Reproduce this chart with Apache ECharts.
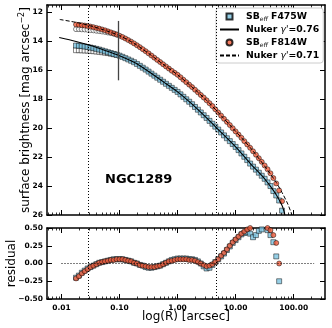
<!DOCTYPE html>
<html><head><meta charset="utf-8">
<script src="https://cdn.jsdelivr.net/npm/echarts@6/dist/echarts.min.js"></script>
<style>html,body{margin:0;padding:0;background:#fff}#c{width:332px;height:328px}</style>
</head><body><div id="c"></div>
<script>
// log10 of radius in arcsec
const logR = [
-1.75,-1.70,-1.65,-1.60,-1.55,-1.50,-1.45,-1.40,-1.35,-1.30,
-1.25,-1.20,-1.15,-1.10,-1.05,-1.00,-0.95,-0.90,-0.85,-0.80,
-0.75,-0.70,-0.65,-0.60,-0.55,-0.50,-0.45,-0.40,-0.35,-0.30,
-0.25,-0.20,-0.15,-0.10,-0.05,0.00,0.05,0.10,0.15,0.20,
0.25,0.30,0.35,0.40,0.45,0.50,0.55,0.60,0.65,0.70,
0.75,0.80,0.85,0.90,0.95,1.00,1.05,1.10,1.15,1.20,
1.25,1.30,1.35,1.40,1.45,1.50,1.55,1.60,1.65,1.70,
1.75,1.80];
const sbF475W = [
14.30,14.32,14.34,14.37,14.40,14.44,14.48,14.53,14.58,14.64,
14.70,14.76,14.82,14.88,14.94,15.00,15.08,15.17,15.26,15.35,
15.45,15.57,15.70,15.83,15.96,16.10,16.24,16.38,16.52,16.66,
16.80,16.94,17.08,17.22,17.36,17.50,17.67,17.84,18.01,18.18,
18.35,18.54,18.73,18.92,19.11,19.30,19.50,19.70,19.90,20.10,
20.30,20.50,20.70,20.90,21.10,21.30,21.52,21.75,21.98,22.21,
22.45,22.66,22.87,23.08,23.29,23.50,23.75,24.00,24.35,24.65,
25.00,25.70];
const sbF814W = [
12.85,12.87,12.89,12.92,12.95,12.99,13.03,13.08,13.13,13.19,
13.25,13.32,13.39,13.46,13.54,13.62,13.71,13.81,13.92,14.03,
14.15,14.28,14.41,14.55,14.69,14.84,14.99,15.14,15.29,15.44,
15.59,15.74,15.89,16.04,16.18,16.32,16.49,16.66,16.83,17.00,
17.17,17.35,17.53,17.71,17.89,18.08,18.28,18.48,18.70,18.92,
19.14,19.36,19.57,19.79,20.01,20.23,20.45,20.67,20.90,21.13,
21.36,21.60,21.84,22.08,22.33,22.58,22.84,23.12,23.45,23.82,
24.30,25.05];
// inner profile points drawn as open markers (first 15 radii)
const sbF475Winner = [14.62,14.62,14.63,14.64,14.65,14.67,14.69,14.71,14.73,14.76,14.79,14.82,14.86,14.90,14.94];
const sbF814Winner = [13.17,13.17,13.18,13.19,13.21,13.23,13.25,13.28,13.30,13.33,13.36,13.40,13.44,13.48,13.54];
const resF475W = [
-0.20,-0.17,-0.13,-0.10,-0.07,-0.05,-0.03,-0.01,0.01,0.02,
0.03,0.04,0.05,0.06,0.06,0.06,0.06,0.05,0.04,0.03,
0.01,0.00,-0.02,-0.03,-0.05,-0.06,-0.06,-0.05,-0.04,-0.03,
-0.01,0.01,0.03,0.05,0.06,0.07,0.07,0.07,0.07,0.06,
0.06,0.05,0.03,0.00,-0.04,-0.07,-0.06,-0.02,0.02,0.06,
0.10,0.14,0.19,0.24,0.29,0.33,0.37,0.41,0.43,0.44,
0.42,0.37,0.40,0.46,0.48,0.52,0.47,0.40,0.30,0.10,
-0.25,-0.60];
const resF814W = [
-0.21,-0.18,-0.14,-0.11,-0.08,-0.05,-0.03,-0.01,0.01,0.02,
0.03,0.04,0.05,0.05,0.06,0.06,0.06,0.05,0.04,0.03,
0.01,0.00,-0.02,-0.03,-0.04,-0.05,-0.05,-0.05,-0.04,-0.03,
-0.01,0.01,0.03,0.04,0.05,0.06,0.06,0.06,0.06,0.05,
0.05,0.04,0.02,0.00,-0.02,-0.04,-0.03,-0.01,0.02,0.06,
0.11,0.15,0.20,0.25,0.30,0.34,0.38,0.42,0.45,0.48,
0.50,0.53,0.55,0.56,0.55,0.53,0.50,0.47,0.40,0.29,
0.00,-0.60];
// Nuker model curves
const nukerX076 = [-2.04,-1.75,-1.5,-1.25,-1.0,-0.75,-0.5,-0.25,0,0.25,0.5,0.75,1.0,1.25,1.5,1.6,1.7,1.8,1.85];
const nuker076  = [13.75,14.02,14.30,14.64,15.01,15.46,16.09,16.79,17.50,18.35,19.30,20.30,21.30,22.43,23.50,24.02,24.60,25.35,26.00];
const nukerX071 = [-2.03,-1.75,-1.5,-1.25,-1.0,-0.75,-0.5,-0.25,0,0.25,0.5,0.75,1.0,1.25,1.5,1.6,1.7,1.8,1.9,1.97];
const nuker071  = [12.50,12.70,12.94,13.25,13.62,14.15,14.84,15.59,16.32,17.17,18.08,19.14,20.22,21.34,22.62,23.17,23.75,24.45,25.25,26.00];
// reference lines (arcsec)
const breakR = [0.0286, 4.6];
const coreR = 0.095, coreSpan = [12.6, 16.7];
const zeroSpanR = [0.01, 225];
// tick labels
const majorR = [0.01, 0.1, 1, 10, 100];
const sbTicks = [12, 14, 16, 18, 20, 22, 24, 26];
const resTicks = [-0.5, -0.25, 0, 0.25, 0.5];

const FONT = 'DejaVu Sans';
const X_MIN = -2.25, X_MAX = 2.54;
const majorLog = majorR.map(v => Math.log10(v));
const minorLog = [];
for (let n = -3; n <= 2; n++) for (let k = 2; k <= 9; k++) {
  const v = Math.log10(k * Math.pow(10, n));
  if (v > X_MIN && v < X_MAX) minorLog.push(v);
}
const BLUE = '#7cc3e0', RED = '#f15b3a';
const axisLine = {show: true, onZero: false, lineStyle: {color: '#000', width: 1.5}};
const noLine = {show: false, onZero: false};

function xAxes(g, withLabels) {
  const base = {gridIndex: g, type: 'value', min: X_MIN, max: X_MAX, splitLine: {show: false}};
  return [
    Object.assign({}, base, {position: 'bottom', axisLine,
      axisTick: {inside: true, length: 5, customValues: majorLog, lineStyle: {color: '#000', width: 1}},
      axisLabel: withLabels ? {show: true, customValues: majorLog, margin: 5,
        formatter: v => Math.pow(10, v).toFixed(2), fontFamily: FONT, fontWeight: 'bold', fontSize: 7.5, color: '#000'} : {show: false},
      name: withLabels ? 'log(R) [arcsec]' : '', nameLocation: 'middle', nameGap: 12, nameMoveOverlap: false,
      nameTextStyle: {fontFamily: FONT, fontSize: 12, color: '#000', verticalAlign: 'top'}}),
    Object.assign({}, base, {position: 'bottom', axisLine: noLine,
      axisTick: {inside: true, length: 2.5, customValues: minorLog, lineStyle: {color: '#000', width: 0.8}},
      axisLabel: {show: false}}),
    Object.assign({}, base, {position: 'top', axisLine,
      axisTick: {inside: true, length: 5, customValues: majorLog, lineStyle: {color: '#000', width: 1}},
      axisLabel: {show: false}}),
    Object.assign({}, base, {position: 'top', axisLine: noLine,
      axisTick: {inside: true, length: 2.5, customValues: minorLog, lineStyle: {color: '#000', width: 0.8}},
      axisLabel: {show: false}})
  ];
}
const labelStyle = {fontFamily: FONT, fontWeight: 'bold', fontSize: 7.5, color: '#000', margin: 4};
const tickStyle = {inside: true, length: 5, lineStyle: {color: '#000', width: 1}};

const dotted = {color: '#000', width: 1, type: [1, 2]};
const vLines = breakR.map(r => ({xAxis: Math.log10(r)}));

const option = {
  animation: false,
  backgroundColor: '#fff',
  title: {text: 'NGC1289', left: 105, top: 173, padding: 0,
    textStyle: {fontFamily: FONT, fontWeight: 'bold', fontSize: 13, color: '#000'}},
  grid: [
    {left: 47, right: 7, top: 5, height: 210, outerBoundsMode: 'none', containLabel: false},
    {left: 47, right: 7, top: 228, height: 71, outerBoundsMode: 'none', containLabel: false}
  ],
  xAxis: [...xAxes(0, false), ...xAxes(1, true)],
  yAxis: [
    {gridIndex: 0, type: 'value', inverse: true, min: 11.5, max: 26, position: 'left', axisLine,
      splitLine: {show: false},
      axisTick: Object.assign({customValues: sbTicks}, tickStyle),
      axisLabel: Object.assign({customValues: sbTicks}, labelStyle),
      name: 'surface brightness [mag arcsec{sup|−2}]', nameLocation: 'middle', nameGap: 14, nameMoveOverlap: false,
      nameTextStyle: {fontFamily: FONT, fontSize: 12, color: '#000', verticalAlign: 'bottom',
        rich: {sup: {fontFamily: FONT, fontSize: 8, color: '#000', padding: [0, 0, 7, 0]}}}},
    {gridIndex: 0, type: 'value', inverse: true, min: 11.5, max: 26, position: 'right', axisLine,
      splitLine: {show: false},
      axisTick: Object.assign({customValues: sbTicks}, tickStyle),
      axisLabel: {show: false}},
    {gridIndex: 1, type: 'value', min: -0.5, max: 0.5, position: 'left', axisLine,
      splitLine: {show: false},
      axisTick: Object.assign({customValues: resTicks}, tickStyle),
      axisLabel: Object.assign({customValues: resTicks,
        formatter: v => (v < 0 ? '\u2212' : '') + Math.abs(v).toFixed(2)}, labelStyle),
      name: 'residual', nameLocation: 'middle', nameGap: 29, nameMoveOverlap: false,
      nameTextStyle: {fontFamily: FONT, fontSize: 12, color: '#000', verticalAlign: 'bottom'}},
    {gridIndex: 1, type: 'value', min: -0.5, max: 0.5, position: 'right', axisLine,
      splitLine: {show: false},
      axisTick: Object.assign({customValues: resTicks}, tickStyle),
      axisLabel: {show: false}}
  ],
  legend: {
    data: [
      {name: 'F475W', icon: 'path://M0 0L10 0L10 10L0 10Z'},
      {name: 'nuker076', itemStyle: {opacity: 0}},
      {name: 'F814W'},
      {name: 'nuker071', itemStyle: {opacity: 0}}
    ],
    orient: 'vertical', left: 216, top: 8, padding: [3, 4, 3, 3], itemGap: 3,
    itemWidth: 19, itemHeight: 6, symbolKeepAspect: true,
    backgroundColor: '#fff', borderColor: '#ccc', borderWidth: 1, borderRadius: 3,
    formatter: n => ({
      F475W: '{b|SB}{s|eff}{b| F475W}',
      nuker076: "{b|Nuker }{g|γ'}{b|=0.76}",
      F814W: '{b|SB}{s|eff}{b| F814W}',
      nuker071: "{b|Nuker }{g|γ'}{b|=0.71}"
    })[n],
    textStyle: {fontFamily: FONT, fontSize: 9.3, color: '#000', padding: [0, 0, 0, 2],
      rich: {
        b: {fontFamily: FONT, fontSize: 9.3, fontWeight: 'bold', color: '#000', lineHeight: 13},
        s: {fontFamily: FONT, fontSize: 6, fontStyle: 'italic', color: '#000', lineHeight: 13, padding: [5, 0, 0, 0]},
        g: {fontFamily: FONT, fontSize: 9.3, fontStyle: 'italic', color: '#000', lineHeight: 13}
      }}
  },
  series: [
    {name: 'F475Winner', type: 'scatter', xAxisIndex: 0, yAxisIndex: 0, z: 1,
      symbol: 'rect', symbolSize: 5,
      itemStyle: {color: '#fff', borderColor: '#000', borderWidth: 0.6},
      data: sbF475Winner.map((v, i) => [logR[i], v])},
    {name: 'F814Winner', type: 'scatter', xAxisIndex: 0, yAxisIndex: 0, z: 1,
      symbol: 'circle', symbolSize: 5,
      itemStyle: {color: '#fff', borderColor: '#000', borderWidth: 0.6},
      data: sbF814Winner.map((v, i) => [logR[i], v])},
    {name: 'F475W', type: 'scatter', xAxisIndex: 0, yAxisIndex: 0, z: 2,
      symbol: 'rect', symbolSize: 5,
      itemStyle: {color: BLUE, borderColor: '#000', borderWidth: 0.6},
      data: logR.map((x, i) => [x, sbF475W[i]]),
      markLine: {silent: true, symbol: ['none', 'none'], label: {show: false}, lineStyle: dotted,
        data: [...vLines,
          [{coord: [Math.log10(coreR), coreSpan[0]], lineStyle: {color: '#444', width: 1.3, type: 'solid'}},
           {coord: [Math.log10(coreR), coreSpan[1]]}]]}},
    {name: 'F814W', type: 'scatter', xAxisIndex: 0, yAxisIndex: 0, z: 2,
      symbol: 'circle', symbolSize: 5,
      itemStyle: {color: RED, borderColor: '#000', borderWidth: 0.6},
      data: logR.map((x, i) => [x, sbF814W[i]])},
    {name: 'nuker076', type: 'line', xAxisIndex: 0, yAxisIndex: 0, z: 3,
      symbol: 'none', smooth: 0.3, lineStyle: {color: '#000', width: 1.1},
      itemStyle: {color: '#000'},
      data: nukerX076.map((x, i) => [x, nuker076[i]])},
    {name: 'nuker071', type: 'line', xAxisIndex: 0, yAxisIndex: 0, z: 3,
      symbol: 'none', smooth: 0.3, lineStyle: {color: '#000', width: 1, type: [4, 2]},
      itemStyle: {color: '#000'},
      data: nukerX071.map((x, i) => [x, nuker071[i]])},
    {name: 'resF475W', type: 'scatter', xAxisIndex: 4, yAxisIndex: 2, z: 2,
      symbol: 'rect', symbolSize: 5,
      itemStyle: {color: BLUE, borderColor: '#000', borderWidth: 0.6},
      data: logR.map((x, i) => [x, resF475W[i]]),
      markLine: {silent: true, symbol: ['none', 'none'], label: {show: false}, lineStyle: dotted,
        data: [...vLines,
          [{coord: [Math.log10(zeroSpanR[0]), 0]}, {coord: [Math.log10(zeroSpanR[1]), 0]}]]}},
    {name: 'resF814W', type: 'scatter', xAxisIndex: 4, yAxisIndex: 2, z: 3,
      symbol: 'circle', symbolSize: 5,
      itemStyle: {color: RED, borderColor: '#000', borderWidth: 0.6},
      data: logR.map((x, i) => [x, resF814W[i]])}
  ]
};
const chart = echarts.init(document.getElementById('c'), null, {renderer: 'canvas'});
chart.setOption(option);
</script></body></html>
